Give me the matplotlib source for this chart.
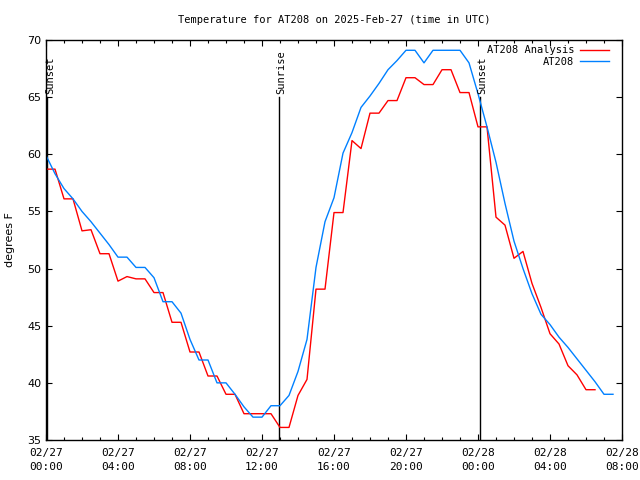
import matplotlib
matplotlib.use("Agg")
import matplotlib.pyplot as plt
import numpy as np

# Horas desde 02/27 00:00 UTC (datos cada media hora)
hours_analysis = np.arange(0, 31, 0.5)
temp_analysis = [58.7, 58.7, 56.1, 56.1, 53.3, 53.4, 51.3, 51.3, 48.9, 49.3,
                 49.1, 49.1, 47.9, 47.9, 45.3, 45.3, 42.7, 42.7, 40.6, 40.6,
                 39.0, 39.0, 37.3, 37.3, 37.3, 37.3, 36.1, 36.1, 38.9, 40.3,
                 48.2, 48.2, 54.9, 54.9, 61.2, 60.5, 63.6, 63.6, 64.7, 64.7,
                 66.7, 66.7, 66.1, 66.1, 67.4, 67.4, 65.4, 65.4, 62.4, 62.4,
                 54.5, 53.8, 50.9, 51.5, 48.7, 46.6, 44.3, 43.4, 41.5, 40.7,
                 39.4, 39.4]

hours_obs = np.arange(0, 32, 0.5)
temp_obs = [59.9, 58.3, 57.0, 56.1, 55.0, 54.1, 53.1, 52.1, 51.0, 51.0,
            50.1, 50.1, 49.2, 47.1, 47.1, 46.1, 43.8, 42.0, 42.0, 40.0,
            40.0, 39.0, 37.9, 37.0, 37.0, 38.0, 38.0, 38.9, 41.0, 43.8,
            50.1, 54.1, 56.2, 60.1, 61.9, 64.1, 65.1, 66.2, 67.4, 68.2,
            69.1, 69.1, 68.0, 69.1, 69.1, 69.1, 69.1, 68.0, 65.3, 62.4,
            59.3, 55.7, 52.4, 50.0, 47.8, 46.0, 45.1, 44.0, 43.1, 42.1,
            41.1, 40.1, 39.0, 39.0]

# Eventos solares
sun_hours = [0.07, 12.93, 24.1]
sun_labels = ["Sunset", "Sunrise", "Sunset"]

tick_hours = [0, 4, 8, 12, 16, 20, 24, 28, 32]
tick_labels = ["02/27\n00:00", "02/27\n04:00", "02/27\n08:00", "02/27\n12:00",
               "02/27\n16:00", "02/27\n20:00", "02/28\n00:00", "02/28\n04:00",
               "02/28\n08:00"]

mono = "DejaVu Sans Mono"

fig = plt.figure(figsize=(6.4, 4.8), dpi=100)
ax = fig.add_axes([46 / 640, 40 / 480, 576 / 640, 400 / 480])

for h, lab in zip(sun_hours, sun_labels):
    ax.plot([h, h], [35, 65], color="black", lw=1.0)
    ax.text(h + 0.15, 65.3, lab, rotation=90, ha="center", va="bottom",
            family=mono, fontsize=7.5)

ax.plot(hours_analysis, temp_analysis, color="#ff0000", lw=1.0, label="AT208 Analysis")
ax.plot(hours_obs, temp_obs, color="#0080ff", lw=1.0, label="AT208")

ax.set_xlim(0, 32)
ax.set_ylim(35, 70)
ax.set_xticks(tick_hours)
ax.set_xticklabels(tick_labels, family=mono, fontsize=8, linespacing=1.4)
ax.set_xticks(np.arange(0, 33, 1), minor=True)
ax.set_yticks(np.arange(35, 71, 5))
ax.tick_params(axis="y", labelsize=8)
ax.tick_params(which="both", direction="in", top=True, right=True)
ax.tick_params(which="major", length=4.5, width=0.8)
ax.tick_params(which="minor", length=2.5, width=0.8)
ax.tick_params(axis="x", which="major", pad=6)
for s in ax.spines.values():
    s.set_linewidth(1.0)

ax.set_title("Temperature for AT208 on 2025-Feb-27 (time in UTC)",
             family=mono, fontsize=7.5, pad=12)
ax.set_ylabel("degrees F", fontsize=8, va="center")
ax.yaxis.set_label_coords(-0.062, 0.5)

leg = ax.legend(loc="upper right", bbox_to_anchor=(0.984, 0.997), borderaxespad=0,
                frameon=False, prop={"family": mono, "size": 7.5},
                markerfirst=False, handlelength=2.7,
                labelspacing=0.15, handletextpad=0.6)
for t in leg.get_texts():
    t.set_ha("right")
leg._legend_box.align = "right"

plt.savefig("out.png", dpi=100)
